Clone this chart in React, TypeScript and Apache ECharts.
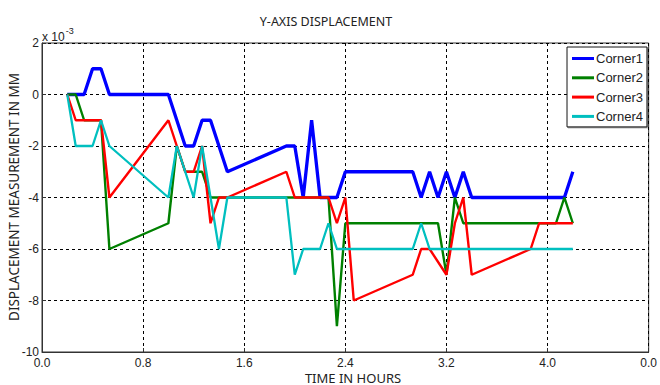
import React, { useEffect, useRef } from "react";
import * as echarts from "echarts";

// Sample times are in minutes from the start of logging; values are in units of 1e-3 mm.
const corner1: [number, number][] = [
  [12, 0], [20, 0], [24, 1], [28, 1], [32, 0], [60, 0], [68, -2], [72, -2], [76, -1], [80, -1],
  [88, -3], [116, -2], [120, -2], [124, -4], [128, -1], [132, -4], [140, -4], [144, -3], [176, -3],
  [180, -4], [184, -3], [188, -4], [192, -3], [196, -4], [200, -3], [204, -4], [248, -4], [252, -3],
];
const corner2: [number, number][] = [
  [12, 0], [16, 0], [20, -1], [28, -1], [32, -6], [60, -5], [64, -2], [68, -3], [76, -3], [80, -4],
  [136, -4], [140, -9], [144, -5], [188, -5], [192, -7], [196, -4], [200, -5], [244, -5], [248, -4],
  [252, -5],
];
const corner3: [number, number][] = [
  [12, 0], [16, -1], [28, -1], [32, -4], [60, -1], [64, -2], [68, -3], [72, -3], [76, -2], [80, -5],
  [84, -4], [88, -4], [116, -3], [120, -4], [136, -4], [140, -5], [144, -4], [148, -8], [176, -7],
  [180, -6], [184, -6], [192, -7], [196, -5], [200, -4], [204, -7], [232, -6], [236, -5], [252, -5],
];
const corner4: [number, number][] = [
  [12, 0], [16, -2], [24, -2], [28, -1], [32, -2], [60, -4], [64, -2], [72, -4], [76, -2], [84, -6],
  [88, -4], [116, -4], [120, -7], [124, -6], [132, -6], [136, -5], [140, -6], [176, -6], [180, -5],
  [184, -6], [252, -6],
];

const seriesNames = ["Corner1", "Corner2", "Corner3", "Corner4"];
const seriesColors = ["#0000ff", "#008000", "#ff0000", "#00bfbf"];
const seriesWidths = [3.3, 2.4, 2.4, 2.3];
const xTickLabels = ["0.0", "0.8", "1.6", "2.4", "3.2", "4.0", "0.0"];

const FONT = "Liberation Sans, Arial, sans-serif";
const TEXT = "#222";

export default function App() {
  const ref = useRef<HTMLDivElement>(null);

  useEffect(() => {
    if (!ref.current) return;
    const chart = echarts.init(ref.current, undefined, { renderer: "svg" });
    const all = [corner1, corner2, corner3, corner4];
    const toHours = (d: [number, number][]) => d.map(([m, v]) => [m / 60, v]);

    chart.setOption({
      animation: false,
      backgroundColor: "#fff",
      title: {
        text: "Y-AXIS DISPLACEMENT",
        left: 321,
        top: 10,
        textAlign: "center",
        textStyle: { fontFamily: "Noto Sans, sans-serif", fontSize: 12.5, fontWeight: "normal", color: "#222" },
      },
      grid: {
        left: 42,
        right: 9,
        top: 43,
        bottom: 33,
        show: true,
        borderColor: "#333",
        borderWidth: 1,
        backgroundColor: "#fff",
      },
      legend: {
        data: seriesNames,
        orient: "vertical",
        left: 567,
        top: 47,
        icon: "rect",
        itemWidth: 22,
        itemHeight: 3,
        itemGap: 4.3,
        itemStyle: { borderWidth: 0 },
        padding: [4, 4, 3, 5],
        borderColor: "#111",
        borderWidth: 1,
        backgroundColor: "#fff",
        shadowColor: "rgba(0,0,0,0.35)",
        shadowOffsetX: 1,
        shadowOffsetY: 1,
        shadowBlur: 0,
        textStyle: { fontFamily: FONT, fontSize: 13, color: TEXT, lineHeight: 15, padding: [0, 0, 0, -3] },
      },
      xAxis: {
        type: "value",
        min: 0,
        max: 4.8,
        interval: 0.8,
        axisLine: { show: true, onZero: false, lineStyle: { color: "#333", width: 1 } },
        axisTick: { show: true, inside: true, length: 4, lineStyle: { color: "#333" } },
        axisLabel: {
          fontFamily: FONT,
          fontSize: 12,
          color: TEXT,
          margin: 5,
          formatter: (v: number) => xTickLabels[Math.round(v / 0.8)] ?? "",
        },
        splitLine: { show: true, lineStyle: { color: "#000", type: [3, 3], width: 1 } },
      },
      yAxis: {
        type: "value",
        min: -10,
        max: 2,
        interval: 2,
        axisLine: { show: true, onZero: false, lineStyle: { color: "#333", width: 1 } },
        axisTick: { show: true, inside: true, length: 4, lineStyle: { color: "#333" } },
        axisLabel: { fontFamily: FONT, fontSize: 12, color: TEXT, margin: 3 },
        splitLine: { show: true, lineStyle: { color: "#000", type: [3, 3], width: 1 } },
      },
      graphic: [
        {
          type: "text",
          left: 42,
          top: 26,
          style: {
            text: "{b|x 10}{s|-3}",
            rich: {
              b: { fontFamily: FONT, fontSize: 12, fill: TEXT, padding: [5, 0, 0, 0] },
              s: { fontFamily: FONT, fontSize: 9, fill: TEXT, verticalAlign: "top", padding: [0, 0, 8, 1] },
            },
          },
        },
        {
          type: "text",
          x: 14,
          y: 197,
          rotation: Math.PI / 2,
          style: {
            text: "DISPLACEMENT MEASUREMENT IN MM",
            fontFamily: "Noto Sans, sans-serif",
            fontSize: 13.5,
            fill: TEXT,
            align: "center",
            verticalAlign: "middle",
          },
        },
        {
          type: "text",
          x: 353,
          y: 377.5,
          style: {
            text: "TIME IN HOURS",
            fontFamily: "Noto Sans, sans-serif",
            fontSize: 13,
            fill: TEXT,
            align: "center",
            verticalAlign: "middle",
          },
        },
      ],
      series: all.map((d, i) => ({
        name: seriesNames[i],
        type: "line",
        data: toHours(d),
        showSymbol: false,
        symbol: "none",
        color: seriesColors[i],
        lineStyle: { color: seriesColors[i], width: seriesWidths[i] },
        emphasis: { disabled: true },
      })),
    });

    return () => chart.dispose();
  }, []);

  return <div ref={ref} style={{ width: 660, height: 385, position: "absolute", left: 0, top: 0 }} />;
}
